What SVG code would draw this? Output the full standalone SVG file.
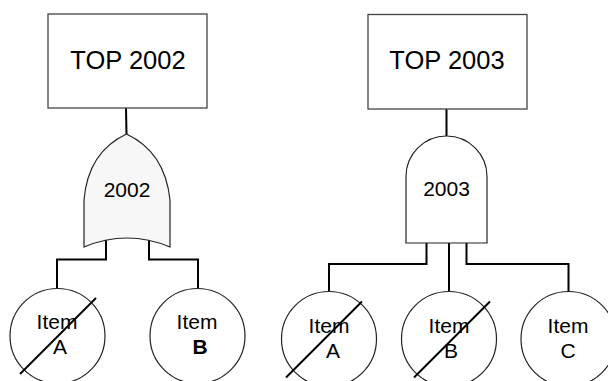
<svg xmlns="http://www.w3.org/2000/svg" width="608" height="381" viewBox="0 0 608 381">
<style>
.box{fill:#fff;stroke:#444;stroke-width:1.3}
.gate{stroke:#222;stroke-width:1.2}
.circ{fill:#fff;stroke:#222;stroke-width:1.2}
.conn{fill:none;stroke:#000;stroke-width:2}
.x{stroke:#000;stroke-width:2}
text{font-family:"Liberation Sans",Arial,sans-serif;fill:#000;text-anchor:middle}
.big{font-size:25.5px}
.med{font-size:21px}
</style>
<rect width="608" height="381" fill="#fff"/>
<g id="connectors">
<path class="conn" d="M126,108 L126.5,134"/>
<path class="conn" d="M106,240 V259.5 H57 V289"/>
<path class="conn" d="M149,240 V259.5 H198 V289"/>
<path class="conn" d="M446.5,109 V136"/>
<path class="conn" d="M426.5,243 V264 H329 V292"/>
<path class="conn" d="M449,243 V292"/>
<path class="conn" d="M466.5,243 V264 H568.5 V292"/>
</g>
<g id="top2002">
<rect class="box" x="48" y="14" width="159" height="94"/>
<text class="big" x="128" y="69">TOP 2002</text>
</g>
<g id="top2003">
<rect class="box" x="368" y="14.5" width="159" height="94.5"/>
<text class="big" x="447" y="69">TOP 2003</text>
</g>
<g id="or2002">
<path class="gate" fill="#f7f7f7" d="M126.5,134 Q88,152 84,200 L84,247 Q127,229 170,247 L170,200 Q165,152 126.5,134 Z"/>
<text class="med" x="127" y="196.5">2002</text>
</g>
<g id="and2003">
<path class="gate" fill="#fff" d="M406,243 V176.5 A40.5,40.5 0 0 1 487,176.5 V243 Z"/>
<text class="med" x="446.5" y="196">2003</text>
</g>
<g id="itemA2002">
<circle class="circ" cx="57.5" cy="336" r="47.5"/>
<text class="med" x="57" y="329">Item</text>
<text class="med" x="60" y="354">A</text>
<line class="x" x1="96" y1="298" x2="20" y2="374"/>
</g>
<g id="itemB2002">
<circle class="circ" cx="197.5" cy="336" r="47.5"/>
<text class="med" x="197" y="328.5">Item</text>
<text class="med" x="200" y="354" font-weight="bold">B</text>
</g>
<g id="itemA2003">
<circle class="circ" cx="329" cy="339" r="47.5"/>
<text class="med" x="329" y="333">Item</text>
<text class="med" x="333" y="358">A</text>
<line class="x" x1="362" y1="301.5" x2="286" y2="377.5"/>
</g>
<g id="itemB2003">
<circle class="circ" cx="449" cy="339" r="47.5"/>
<text class="med" x="449" y="333">Item</text>
<text class="med" x="451" y="358">B</text>
<line class="x" x1="490" y1="301.5" x2="414" y2="377.5"/>
</g>
<g id="itemC2003">
<circle class="circ" cx="568.5" cy="339" r="47.5"/>
<text class="med" x="568" y="333">Item</text>
<text class="med" x="568" y="358">C</text>
</g>
</svg>
